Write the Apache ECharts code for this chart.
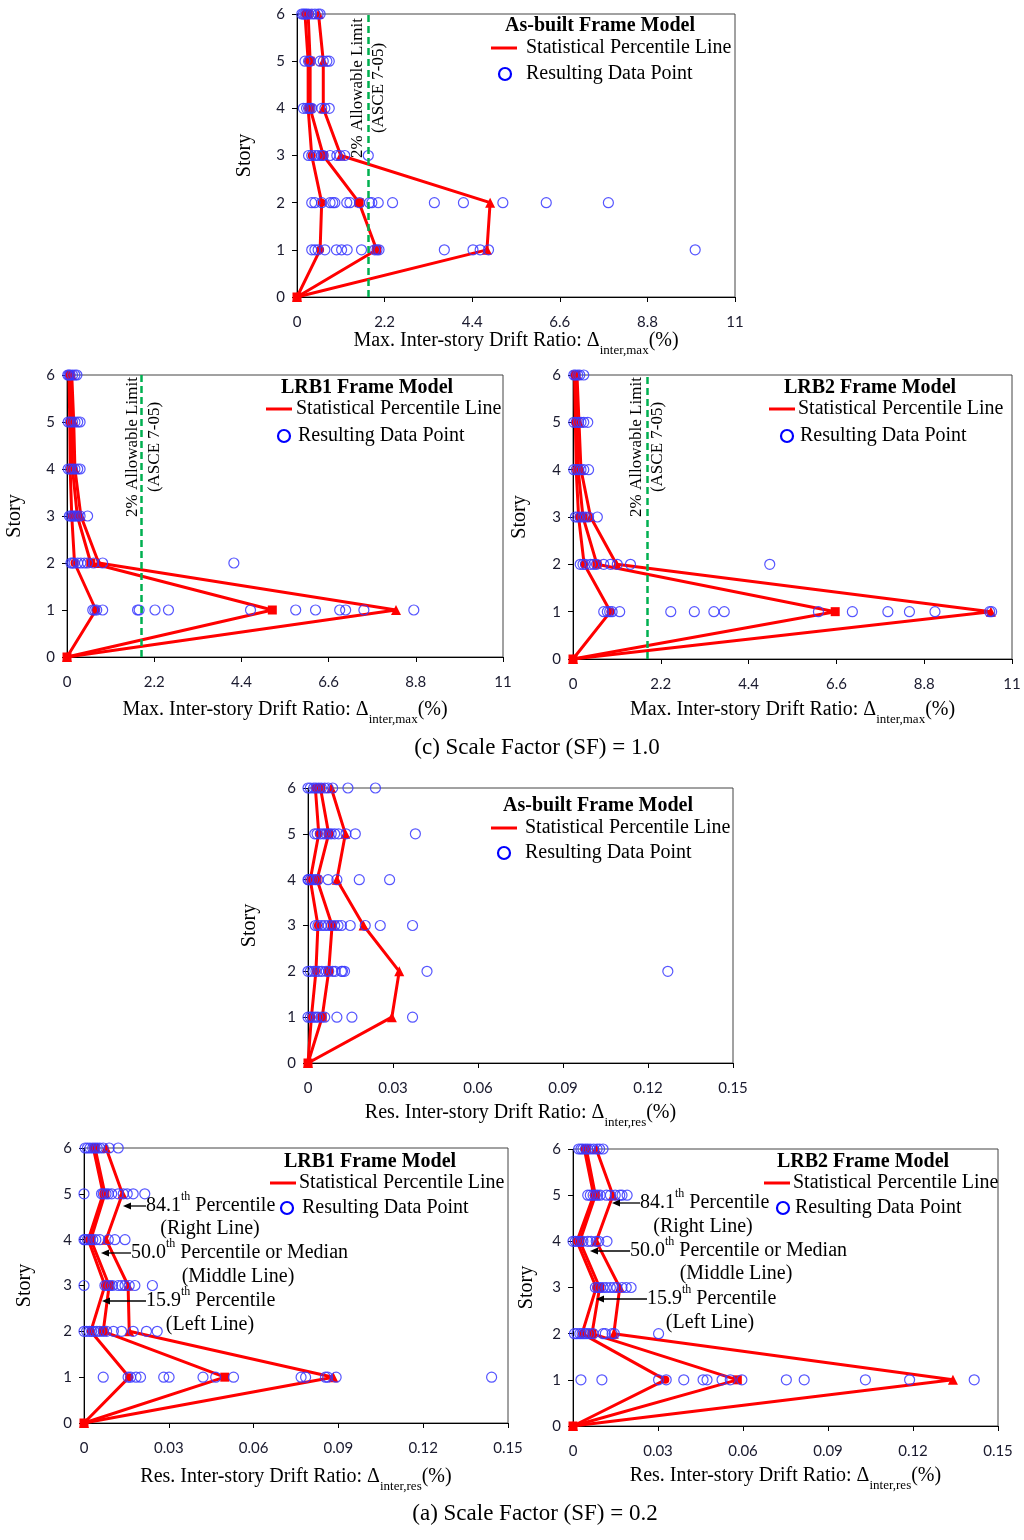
<!DOCTYPE html>
<html>
<head>
<meta charset="utf-8">
<script src="https://cdn.jsdelivr.net/npm/echarts@6/dist/echarts.min.js"></script>
<style>
  html, body { margin: 0; background: #fff; }
  #chart { width: 1024px; height: 1540px; }
</style>
</head>
<body>
<div id="chart"></div>
<script>
const stories = [0, 1, 2, 3, 4, 5, 6];

// (c) SF = 1.0, max inter-story drift (%) - percentile lines per story 0..6
const abMaxP16 = [0, 0.58, 0.62, 0.37, 0.28, 0.28, 0.20];
const abMaxP50 = [0, 2.00, 1.56, 0.66, 0.33, 0.33, 0.28];
const abMaxP84 = [0, 4.77, 4.85, 1.10, 0.66, 0.66, 0.54];
// data points, rows = story 1..6
const abMaxPts = [
  [0.37, 0.45, 0.53, 0.70, 0.99, 1.12, 1.26, 1.62, 1.95, 2.01, 2.06, 3.70, 4.42, 4.60, 4.81, 10.0],
  [0.37, 0.45, 0.62, 0.83, 0.90, 0.95, 1.25, 1.33, 1.57, 1.82, 1.88, 2.04, 2.40, 3.45, 4.18, 5.17, 6.26, 7.82],
  [0.29, 0.37, 0.45, 0.53, 0.62, 0.66, 0.83, 1.00, 1.08, 1.20, 1.79],
  [0.16, 0.24, 0.29, 0.33, 0.37, 0.62, 0.70, 0.81],
  [0.20, 0.29, 0.33, 0.58, 0.66, 0.75, 0.81],
  [0.12, 0.16, 0.20, 0.24, 0.29, 0.37, 0.45, 0.53, 0.58]
];

const lrb1MaxP16 = [0, 0.73, 0.19, 0.12, 0.08, 0.07, 0.05];
const lrb1MaxP50 = [0, 5.18, 0.60, 0.26, 0.14, 0.12, 0.08];
const lrb1MaxP84 = [0, 8.30, 0.80, 0.35, 0.20, 0.17, 0.12];
const lrb1MaxPts = [
  [0.65, 0.70, 0.75, 0.90, 1.78, 1.82, 2.22, 2.56, 4.63, 5.77, 6.27, 6.88, 7.03, 7.49, 8.75],
  [0.10, 0.14, 0.18, 0.27, 0.35, 0.44, 0.52, 0.67, 0.90, 4.21],
  [0.06, 0.10, 0.14, 0.18, 0.22, 0.27, 0.33, 0.52],
  [0.03, 0.08, 0.14, 0.20, 0.27, 0.33],
  [0.03, 0.08, 0.14, 0.20, 0.27, 0.33],
  [0.02, 0.05, 0.08, 0.14, 0.20, 0.25]
];

const lrb2MaxP16 = [0, 0.94, 0.28, 0.14, 0.08, 0.06, 0.04];
const lrb2MaxP50 = [0, 6.57, 0.60, 0.25, 0.13, 0.10, 0.07];
const lrb2MaxP84 = [0, 10.47, 1.09, 0.44, 0.20, 0.15, 0.10];
const lrb2MaxPts = [
  [0.77, 0.86, 0.92, 0.98, 1.17, 2.45, 3.04, 3.53, 3.79, 6.15, 7.00, 7.89, 8.43, 9.07, 10.44, 10.49],
  [0.18, 0.25, 0.31, 0.44, 0.52, 0.59, 0.77, 0.94, 1.11, 1.44, 4.93],
  [0.06, 0.12, 0.18, 0.25, 0.31, 0.39, 0.61],
  [0.02, 0.08, 0.14, 0.20, 0.27, 0.39],
  [0.02, 0.08, 0.14, 0.20, 0.27, 0.37],
  [0.02, 0.06, 0.12, 0.17, 0.27]
];

// 2% allowable limit line as drawn in each SF=1.0 panel
const limitAb = 1.78, limitLrb1 = 1.88, limitLrb2 = 1.85;

// (a) SF = 0.2, residual inter-story drift (%)
const abResP16 = [0, 0.0012, 0.0028, 0.0035, 0.0008, 0.0038, 0.0026];
const abResP50 = [0, 0.0050, 0.0073, 0.0085, 0.0032, 0.0073, 0.0044];
const abResP84 = [0, 0.0296, 0.0322, 0.0196, 0.0102, 0.0132, 0.0082];
const abResPts = [
  [0.0, 0.0008, 0.0016, 0.0026, 0.0035, 0.0047, 0.0059, 0.0102, 0.0155, 0.0369],
  [0.0, 0.0008, 0.0020, 0.0028, 0.0038, 0.0049, 0.0064, 0.0073, 0.0087, 0.0096, 0.0118, 0.0122, 0.0129, 0.0420, 0.1270],
  [0.0026, 0.0035, 0.0047, 0.0059, 0.0071, 0.0082, 0.0094, 0.0106, 0.0118, 0.0149, 0.0202, 0.0255, 0.0369],
  [0.0, 0.0002, 0.0008, 0.0016, 0.0026, 0.0035, 0.0071, 0.0102, 0.0181, 0.0288],
  [0.0024, 0.0032, 0.0044, 0.0055, 0.0064, 0.0073, 0.0082, 0.0094, 0.0108, 0.0134, 0.0167, 0.0379],
  [0.0, 0.0008, 0.0020, 0.0028, 0.0038, 0.0047, 0.0059, 0.0071, 0.0087, 0.0141, 0.0238]
];

const lrb1ResP16 = [0, 0.0160, 0.0024, 0.0074, 0.0015, 0.0068, 0.0033];
const lrb1ResP50 = [0, 0.0498, 0.0068, 0.0089, 0.0024, 0.0074, 0.0039];
const lrb1ResP84 = [0, 0.0882, 0.0160, 0.0156, 0.0078, 0.0136, 0.0078];
const lrb1ResPts = [
  [0.0068, 0.0156, 0.0165, 0.0184, 0.0200, 0.0282, 0.0301, 0.0421, 0.0466, 0.0529, 0.0768, 0.0784, 0.0854, 0.0862, 0.0892, 0.1442],
  [0.0, 0.0009, 0.0019, 0.0027, 0.0035, 0.0045, 0.0056, 0.0068, 0.0080, 0.0104, 0.0133, 0.0174, 0.0221, 0.0259],
  [0.0, 0.0074, 0.0082, 0.0092, 0.0101, 0.0121, 0.0133, 0.0145, 0.0160, 0.0180, 0.0242],
  [0.0, 0.0004, 0.0012, 0.0021, 0.0031, 0.0042, 0.0056, 0.0086, 0.0109, 0.0145],
  [0.0, 0.0062, 0.0068, 0.0078, 0.0086, 0.0098, 0.0121, 0.0139, 0.0153, 0.0174, 0.0215],
  [0.0004, 0.0012, 0.0021, 0.0031, 0.0039, 0.0047, 0.0056, 0.0068, 0.0089, 0.0121]
];

const lrb2ResP16 = [0, 0.0326, 0.0032, 0.0082, 0.0014, 0.0073, 0.0040];
const lrb2ResP50 = [0, 0.0580, 0.0067, 0.0094, 0.0024, 0.0079, 0.0047];
const lrb2ResP84 = [0, 0.1341, 0.0144, 0.0165, 0.0082, 0.0141, 0.0082];
const lrb2ResPts = [
  [0.0028, 0.0102, 0.0302, 0.0329, 0.0391, 0.0459, 0.0473, 0.0526, 0.0555, 0.0596, 0.0753, 0.0816, 0.1032, 0.1188, 0.1416],
  [0.0005, 0.0014, 0.0024, 0.0032, 0.0040, 0.0049, 0.0059, 0.0071, 0.0106, 0.0114, 0.0138, 0.0146, 0.0302],
  [0.0079, 0.0087, 0.0096, 0.0106, 0.0118, 0.0132, 0.0144, 0.0155, 0.0173, 0.0188, 0.0205],
  [0.0, 0.0008, 0.0016, 0.0026, 0.0035, 0.0052, 0.0064, 0.0082, 0.0091, 0.0120],
  [0.0052, 0.0061, 0.0071, 0.0079, 0.0087, 0.0096, 0.0118, 0.0132, 0.0149, 0.0165, 0.0173, 0.0191],
  [0.0020, 0.0028, 0.0035, 0.0044, 0.0052, 0.0061, 0.0073, 0.0085, 0.0094, 0.0106]
];

const SERIF = 'Liberation Serif';
const SANS = 'Lato';
const RED = '#ff0000';

const grids = [
  { left: 297, top: 14, width: 438, height: 283 },
  { left: 67, top: 375, width: 436, height: 282 },
  { left: 573, top: 375, width: 439, height: 284 },
  { left: 308, top: 788, width: 425, height: 275 },
  { left: 84, top: 1148, width: 424, height: 275 },
  { left: 573, top: 1149, width: 425, height: 277 }
].map(g => Object.assign(g, { show: true, borderColor: '#444', borderWidth: 1, backgroundColor: 'transparent' }));

const nameRich = {
  t: { fontFamily: SERIF, fontSize: 20, color: '#000', verticalAlign: 'middle', lineHeight: 22 },
  s: { fontFamily: SERIF, fontSize: 13, color: '#000', verticalAlign: 'bottom', lineHeight: 32 }
};
const maxName = '{t|Max. Inter-story Drift Ratio: Δ}{s|inter,max}{t|(%)}';
const resName = '{t|Res. Inter-story Drift Ratio: Δ}{s|inter,res}{t|(%)}';

function makeX(i, max, interval, name, gap) {
  return {
    type: 'value', gridIndex: i, min: 0, max: max, interval: interval,
    axisLine: { onZero: false, lineStyle: { color: '#000', width: 1 } },
    axisTick: { length: 5, lineStyle: { color: '#000' } },
    axisLabel: { fontFamily: SANS, fontSize: 15, color: '#1a1a2e', margin: 18,
      formatter: v => String(+v.toFixed(2)) },
    splitLine: { show: false },
    name: name, nameLocation: 'middle', nameGap: gap,
    nameTextStyle: { rich: nameRich }
  };
}
function makeY(i, gap) {
  return {
    type: 'value', gridIndex: i, min: 0, max: 6, interval: 1,
    axisLine: { onZero: false, lineStyle: { color: '#000', width: 1 } },
    axisTick: { length: 5, lineStyle: { color: '#000' } },
    axisLabel: { fontFamily: SANS, fontSize: 15, color: '#1a1a2e', margin: 12 },
    splitLine: { show: false },
    name: 'Story', nameLocation: 'middle', nameRotate: 90, nameGap: gap,
    nameTextStyle: { fontFamily: SERIF, fontSize: 20, color: '#000' }
  };
}

const xAxes = [
  makeX(0, 11, 2.2, maxName, 28),
  makeX(1, 11, 2.2, maxName, 37),
  makeX(2, 11, 2.2, maxName, 35),
  makeX(3, 0.15, 0.03, resName, 34),
  makeX(4, 0.15, 0.03, resName, 38),
  makeX(5, 0.15, 0.03, resName, 34)
];
const yAxes = [makeY(0, 42), makeY(1, 42), makeY(2, 43), makeY(3, 48), makeY(4, 49), makeY(5, 36)];

function lineSeries(i, vals, symbol, size) {
  return {
    type: 'line', xAxisIndex: i, yAxisIndex: i, name: 'Statistical Percentile Line',
    data: stories.map((s, k) => [vals[k], s]),
    symbol: symbol, symbolSize: size, showSymbol: true,
    lineStyle: { color: RED, width: 3 },
    itemStyle: { color: RED },
    z: 2, silent: true, animation: false
  };
}
function pointSeries(i, rows, limit) {
  const s = {
    type: 'scatter', xAxisIndex: i, yAxisIndex: i, name: 'Resulting Data Point',
    data: rows.flatMap((row, k) => row.map(v => [v, k + 1])),
    symbol: 'circle', symbolSize: 10,
    itemStyle: { color: 'rgba(0,0,0,0)', borderColor: '#3838ff', borderWidth: 1.2, opacity: 0.85 },
    z: 3, silent: true, animation: false
  };
  if (limit !== undefined) {
    s.markLine = {
      silent: true, symbol: 'none', animation: false,
      label: { show: false },
      lineStyle: { color: '#00b050', type: [7, 4], width: 2.5 },
      data: [{ xAxis: limit }]
    };
  }
  return s;
}
function panelSeries(i, p16, p50, p84, pts, limit) {
  return [
    lineSeries(i, p16, 'circle', 8),
    lineSeries(i, p84, 'triangle', 10),
    lineSeries(i, p50, 'rect', 9),
    pointSeries(i, pts, limit)
  ];
}

const series = [].concat(
  panelSeries(0, abMaxP16, abMaxP50, abMaxP84, abMaxPts, limitAb),
  panelSeries(1, lrb1MaxP16, lrb1MaxP50, lrb1MaxP84, lrb1MaxPts, limitLrb1),
  panelSeries(2, lrb2MaxP16, lrb2MaxP50, lrb2MaxP84, lrb2MaxPts, limitLrb2),
  panelSeries(3, abResP16, abResP50, abResP84, abResPts),
  panelSeries(4, lrb1ResP16, lrb1ResP50, lrb1ResP84, lrb1ResPts),
  panelSeries(5, lrb2ResP16, lrb2ResP50, lrb2ResP84, lrb2ResPts)
);

// ---- legends, captions and notes ----
function txt(x, y, text, opt) {
  opt = opt || {};
  return {
    type: 'text', x: x, y: y, rotation: opt.rotation || 0, z: 10, silent: true,
    style: {
      text: text, fill: '#000',
      font: (opt.bold ? 'bold ' : '') + (opt.size || 20) + 'px "' + SERIF + '"',
      align: opt.align || 'left', verticalAlign: 'middle',
      rich: opt.rich
    }
  };
}
function legendBox(title, tx, ty, lx, ly, cx, cy, sx, rx) {
  return [
    txt(tx, ty, title, { bold: true, align: 'center' }),
    { type: 'line', z: 10, silent: true, shape: { x1: lx, y1: ly, x2: lx + 26, y2: ly }, style: { stroke: RED, lineWidth: 3 } },
    txt(sx, ly, 'Statistical Percentile Line'),
    { type: 'circle', z: 10, silent: true, shape: { cx: cx, cy: cy, r: 6 }, style: { fill: 'none', stroke: '#0000ff', lineWidth: 2.2 } },
    txt(rx, cy, 'Resulting Data Point')
  ];
}
function limitText(x1, x2, y) {
  return [
    txt(x1, y, '2% Allowable Limit', { align: 'center', rotation: Math.PI / 2, size: 17 }),
    txt(x2, y, '(ASCE 7-05)', { align: 'center', rotation: Math.PI / 2, size: 17 })
  ];
}
const supRich = {
  n: { fontFamily: SERIF, fontSize: 20, color: '#000', verticalAlign: 'middle', lineHeight: 22 },
  p: { fontFamily: SERIF, fontSize: 12, color: '#000', verticalAlign: 'top', lineHeight: 30 }
};
function arrow(x1, x2, y) {
  return [
    { type: 'line', z: 10, silent: true, shape: { x1: x1, y1: y, x2: x2 + 6, y2: y }, style: { stroke: '#000', lineWidth: 1.3 } },
    { type: 'polygon', z: 10, silent: true, shape: { points: [[x2, y], [x2 + 8, y - 3.5], [x2 + 8, y + 3.5]] }, style: { fill: '#000' } }
  ];
}
function notes(a1x, a1tip, a1y, r1x, r1y, a2x, a2tip, a2y, r2x, r2y, a3x, a3tip, a3y, r3x, r3y) {
  return [].concat(
    arrow(a1x, a1tip, a1y),
    [txt(a1x, a1y, '{n|84.1}{p|th}{n| Percentile}', { rich: supRich }), txt(r1x, r1y, '(Right Line)', { align: 'center' })],
    arrow(a2x, a2tip, a2y),
    [txt(a2x, a2y, '{n|50.0}{p|th}{n| Percentile or Median}', { rich: supRich }), txt(r2x, r2y, '(Middle Line)', { align: 'center' })],
    arrow(a3x, a3tip, a3y),
    [txt(a3x, a3y, '{n|15.9}{p|th}{n| Percentile}', { rich: supRich }), txt(r3x, r3y, '(Left Line)', { align: 'center' })]
  );
}

const graphic = [].concat(
  legendBox('As-built Frame Model', 600, 26, 491, 48, 505, 74, 526, 526),
  legendBox('LRB1 Frame Model', 367, 388, 266, 409, 284, 436, 296, 298),
  legendBox('LRB2 Frame Model', 870, 388, 769, 409, 787, 436, 798, 800),
  legendBox('As-built Frame Model', 598, 806, 491, 828, 504, 853, 525, 525),
  legendBox('LRB1 Frame Model', 370, 1162, 270, 1183, 287, 1208, 299, 302),
  legendBox('LRB2 Frame Model', 863, 1162, 764, 1183, 783, 1208, 793, 795),
  limitText(358, 379, 88),
  limitText(133, 155, 447),
  limitText(637, 658, 447),
  notes(146, 123, 1206, 210, 1229, 131, 101, 1253, 238, 1277, 146, 102, 1301, 210, 1325),
  notes(640, 612, 1203, 703, 1227, 630, 590, 1251, 736, 1274, 647, 596, 1299, 710, 1323),
  [
    txt(537, 748, '(c) Scale Factor (SF) = 1.0', { align: 'center', size: 23 }),
    txt(535, 1514, '(a) Scale Factor (SF) = 0.2', { align: 'center', size: 23 })
  ]
);

const chart = echarts.init(document.getElementById('chart'), null, { renderer: 'canvas' });
chart.setOption({
  backgroundColor: '#fff',
  animation: false,
  grid: grids,
  xAxis: xAxes,
  yAxis: yAxes,
  series: series,
  graphic: graphic
});
</script>
</body>
</html>
